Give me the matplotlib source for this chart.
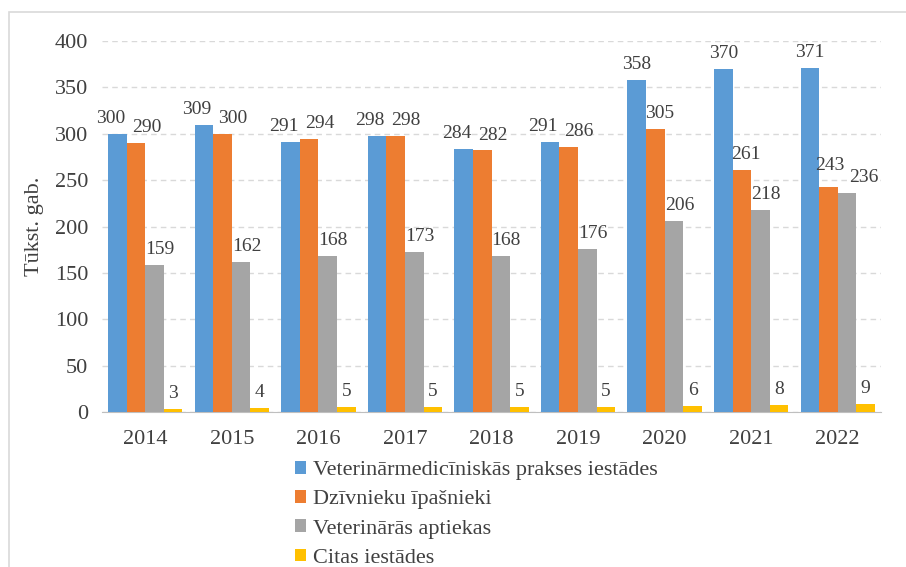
import numpy as np
import matplotlib
matplotlib.use("Agg")
import matplotlib.pyplot as plt
from matplotlib.patches import Rectangle

# Data
years = ["2014", "2015", "2016", "2017", "2018", "2019", "2020", "2021", "2022"]
prakses = [300, 309, 291, 298, 284, 291, 358, 370, 371]
ipasnieki = [290, 300, 294, 298, 282, 286, 305, 261, 243]
aptiekas = [159, 162, 168, 173, 168, 176, 206, 218, 236]
citas = [3, 4, 5, 5, 5, 5, 6, 8, 9]

series_names = [
    "Veterinārmedicīniskās prakses iestādes",
    "Dzīvnieku īpašnieki",
    "Veterinārās aptiekas",
    "Citas iestādes",
]
colors = ["#5B9BD5", "#ED7D31", "#A5A5A5", "#FFC000"]

plt.rcParams["font.family"] = ["Liberation Serif", "DejaVu Serif"]
text_color = "#404040"

fig = plt.figure(figsize=(9.06, 5.67), dpi=100)
ax = fig.add_axes([102 / 906, 1 - 412 / 567, (881 - 102) / 906, (412 - 41) / 567])

x = np.arange(len(years))
width = 0.215
all_series = [prakses, ipasnieki, aptiekas, citas]
for i, (vals, name, c) in enumerate(zip(all_series, series_names, colors)):
    pos = x + (i - 1.5) * width
    ax.bar(pos, vals, width, color=c, label=name, zorder=3)
    for j, v in enumerate(vals):
        # nudge labels sideways like Excel does to keep them apart
        close = abs(prakses[j] - ipasnieki[j]) < 25
        close2 = abs(ipasnieki[j] - aptiekas[j]) < 25
        dx, dy = 0, 5
        if i == 0:
            dx = -5 if close else 0
        elif i == 1:
            dx = 7.5 if close else 3
            if close2:
                dx, dy = 1, 9
        elif i == 2:
            dx = 12 if close2 else 4
        ax.annotate(str(v), (pos[j], v), xytext=(dx, dy), textcoords="offset points",
                    ha="center", va="bottom", fontsize=14, color=text_color)

ax.set_xlim(-0.5, len(years) - 0.5)
ax.set_ylim(0, 400)
ax.set_yticks(range(0, 401, 50))
ax.set_xticks(x)
ax.set_xticklabels(years)
ax.tick_params(axis="both", length=0, labelsize=16, labelcolor=text_color)
ax.tick_params(axis="y", pad=10)
ax.tick_params(axis="x", pad=13)
ax.grid(axis="y", linestyle=(0, (4, 3)), color="#D9D9D9", linewidth=1, zorder=0)
for s in ["left", "right", "top"]:
    ax.spines[s].set_visible(False)
ax.spines["bottom"].set_color("#BFBFBF")
ax.set_ylabel("Tūkst. gab.", fontsize=16, color=text_color, labelpad=8)

ax.legend(loc="upper left", bbox_to_anchor=(295 / 906, 1 - 461 / 567),
          bbox_transform=fig.transFigure, frameon=False, fontsize=16,
          labelcolor=text_color, handlelength=0.5, handleheight=0.5,
          handletextpad=0.3, labelspacing=0.45, borderaxespad=0, borderpad=0)

# light frame around the chart area
fig.patches.append(Rectangle((9 / 906, -0.05), 1.1, 1 - 12 / 567 + 0.05,
                             transform=fig.transFigure, fill=False,
                             edgecolor="#D9D9D9", linewidth=1.2))

fig.savefig("out.png", dpi=100)
